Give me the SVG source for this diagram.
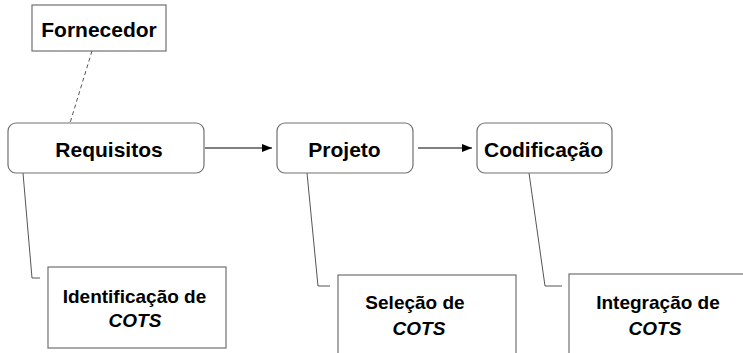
<svg xmlns="http://www.w3.org/2000/svg" width="743" height="353" viewBox="0 0 743 353">
<style>
.box{fill:#fff;stroke:#707070;stroke-width:1.2}
.t{font-family:"Liberation Sans",Arial,sans-serif;font-weight:bold;fill:#000;text-anchor:middle}
.main{font-size:21px}
.sub{font-size:19px}
.it{font-style:italic}
.c{stroke:#555;fill:none;stroke-width:1}
.a{stroke:#000;fill:none;stroke-width:1}
</style>
<defs>
<marker id="arr" markerWidth="10" markerHeight="8" refX="10" refY="4" orient="auto" markerUnits="userSpaceOnUse">
<path d="M0,0 L10,4 L0,8 z" fill="#000"/>
</marker>
</defs>
<g id="connectors">
<path class="c" d="M92,51 L70,123" stroke-dasharray="4,3"/>
<path class="a" d="M205,148 L272,148" marker-end="url(#arr)"/>
<path class="a" d="M418,148 L472,148" marker-end="url(#arr)"/>
<path class="c" d="M23,173 L32,278 L40,278"/>
<path class="c" d="M307,173 L318,286 L330,286"/>
<path class="c" d="M529,173 L545,286 L562,286"/>
</g>
<g id="fornecedor">
<rect class="box" x="32" y="5" width="134" height="46"/>
<text class="t main" x="99" y="37">Fornecedor</text>
</g>
<g id="requisitos">
<rect class="box" x="8" y="123" width="196" height="50" rx="8"/>
<text class="t main" x="109" y="157">Requisitos</text>
</g>
<g id="projeto">
<rect class="box" x="277" y="123" width="136" height="50" rx="8"/>
<text class="t main" x="344.5" y="157">Projeto</text>
</g>
<g id="codificacao">
<rect class="box" x="477" y="123" width="135" height="50" rx="8"/>
<text class="t main" x="543.5" y="157">Codificação</text>
</g>
<g id="identificacao">
<rect class="box" x="48" y="267" width="178" height="81"/>
<text class="t sub" x="134.5" y="303">Identificação de</text>
<text class="t sub it" x="135" y="327">COTS</text>
</g>
<g id="selecao">
<rect class="box" x="338" y="275" width="178" height="100"/>
<text class="t sub" x="415" y="309">Seleção de</text>
<text class="t sub it" x="419" y="335">COTS</text>
</g>
<g id="integracao">
<rect class="box" x="569" y="274" width="180" height="100"/>
<text class="t sub" x="658" y="309">Integração de</text>
<text class="t sub it" x="655" y="335">COTS</text>
</g>
</svg>
